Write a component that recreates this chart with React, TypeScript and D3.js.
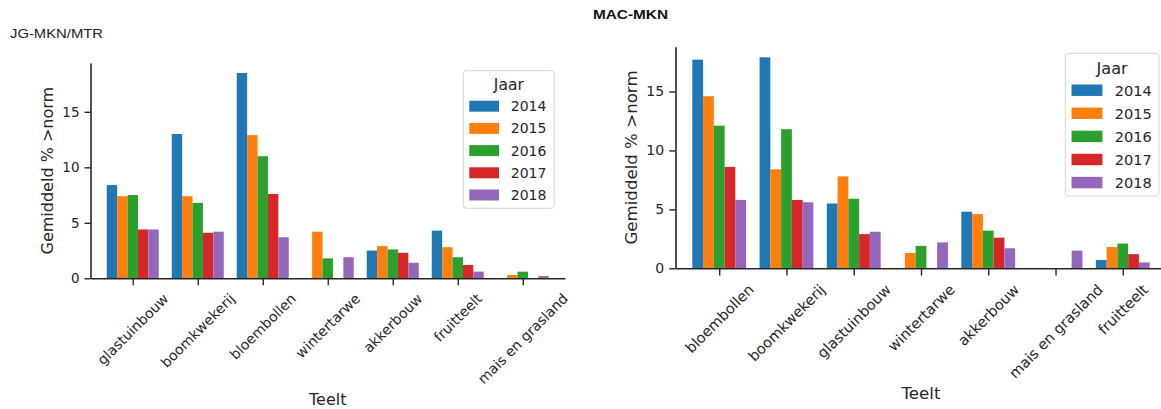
import { useEffect, useRef } from 'react';
import * as d3 from 'd3';

// Jaren en kleuren (matplotlib tab10)
const years = ['2014', '2015', '2016', '2017', '2018'];
const yearColors = ['#1f77b4', '#ff7f0e', '#2ca02c', '#d62728', '#9467bd'];
const yTicks = [0, 5, 10, 15];

// JG-MKN/MTR
const leftCats = ['glastuinbouw', 'boomkwekerij', 'bloembollen', 'wintertarwe', 'akkerbouw', 'fruitteelt', 'mais en grasland'];
const left2014 = [8.4, 13.0, 18.5, 0, 2.5, 4.3, 0];
const left2015 = [7.4, 7.4, 12.9, 4.2, 2.9, 2.8, 0.3];
const left2016 = [7.5, 6.8, 11.0, 1.8, 2.6, 1.9, 0.6];
const left2017 = [4.4, 4.1, 7.6, 0, 2.3, 1.2, 0];
const left2018 = [4.4, 4.2, 3.7, 1.9, 1.4, 0.6, 0.2];

// MAC-MKN
const rightCats = ['bloembollen', 'boomkwekerij', 'glastuinbouw', 'wintertarwe', 'akkerbouw', 'mais en grasland', 'fruitteelt'];
const right2014 = [17.7, 17.9, 5.5, 0, 4.8, 0, 0.7];
const right2015 = [14.6, 8.4, 7.8, 1.3, 4.6, 0, 1.8];
const right2016 = [12.1, 11.8, 5.9, 1.9, 3.2, 0, 2.1];
const right2017 = [8.6, 5.8, 2.9, 0, 2.6, 0, 1.2];
const right2018 = [5.8, 5.6, 3.1, 2.2, 1.7, 1.5, 0.5];

const INK = '#262626';
const FONT = 'DejaVu Sans, sans-serif';

interface Panel {
  cats: string[];
  series: number[][];
  k: number; // slight scale difference between both panels
  left: number;
  right: number;
  top: number;
  bottom: number;
  yMax: number;
  pad: number;
  legend: { x: number; y: number; w: number; h: number };
  ylabelX: number;
  xlabelY: number;
}

function drawPanel(svg: d3.Selection<SVGSVGElement, unknown, null, undefined>, p: Panel) {
  const k = p.k;
  const n = p.cats.length;
  const x = d3.scaleLinear().domain([-p.pad, n - 1 + p.pad]).range([p.left, p.right]);
  const y = d3.scaleLinear().domain([0, p.yMax]).range([p.bottom, p.top]);
  const step = x(1) - x(0);
  const bw = (step * 0.8) / years.length;

  const g = svg.append('g');

  // bars
  p.series.forEach((vals, j) => {
    g.append('g')
      .selectAll('rect')
      .data(vals)
      .enter()
      .append('rect')
      .attr('x', (_d, i) => x(i) - step * 0.4 + j * bw)
      .attr('width', bw)
      .attr('y', d => y(d))
      .attr('height', d => y(0) - y(d))
      .attr('fill', yearColors[j]);
  });

  // y axis
  const ya = g.append('g')
    .attr('transform', `translate(${p.left},0)`)
    .call(d3.axisLeft(y).tickValues(yTicks).tickSize(6 * k).tickSizeOuter(0).tickPadding(5 * k));
  ya.select('.domain').attr('stroke', INK).attr('stroke-width', 1.6);
  ya.selectAll('.tick line').attr('stroke', INK).attr('stroke-width', 1.4);
  ya.selectAll('.tick text').attr('fill', INK).style('font-family', FONT).style('font-size', `${13.5 * k}px`);

  // x axis
  const xa = g.append('g')
    .attr('transform', `translate(0,${p.bottom})`)
    .call(d3.axisBottom(x).tickValues(d3.range(n)).tickFormat(() => '').tickSize(7 * k).tickSizeOuter(0));
  xa.select('.domain').attr('stroke', INK).attr('stroke-width', 1.6);
  xa.selectAll('.tick line').attr('stroke', INK).attr('stroke-width', 1.4);

  // rotated category labels, bbox centred under the tick (matplotlib ha=center)
  const fs = 14 * k;
  p.cats.forEach((c, i) => {
    const t = g.append('text')
      .attr('text-anchor', 'middle')
      .attr('dominant-baseline', 'central')
      .attr('fill', INK)
      .style('font-family', FONT)
      .style('font-size', `${fs}px`)
      .text(c);
    const L = (t.node() as SVGTextElement).getComputedTextLength();
    const half = (L + fs * 1.05) * Math.SQRT1_2 / 2;
    t.attr('transform', `translate(${x(i)},${p.bottom + 12.5 * k + half}) rotate(-45)`);
  });

  // axis labels
  g.append('text')
    .attr('transform', `translate(${p.ylabelX},${(p.top + p.bottom) / 2}) rotate(-90)`)
    .attr('text-anchor', 'middle')
    .attr('dominant-baseline', 'central')
    .attr('fill', INK)
    .style('font-family', FONT)
    .style('font-size', `${16 * k}px`)
    .text('Gemiddeld % >norm');

  g.append('text')
    .attr('x', (p.left + p.right) / 2)
    .attr('y', p.xlabelY)
    .attr('text-anchor', 'middle')
    .attr('dominant-baseline', 'central')
    .attr('fill', INK)
    .style('font-family', FONT)
    .style('font-size', `${16 * k}px`)
    .text('Teelt');

  // legend
  const lg = g.append('g').attr('transform', `translate(${p.legend.x},${p.legend.y})`);
  lg.append('rect')
    .attr('width', p.legend.w)
    .attr('height', p.legend.h)
    .attr('rx', 3)
    .attr('fill', '#fff')
    .attr('fill-opacity', 0.8)
    .attr('stroke', '#d6d6d6')
    .attr('stroke-width', 1);
  lg.append('text')
    .attr('x', p.legend.w / 2)
    .attr('y', 14.3 * k)
    .attr('text-anchor', 'middle')
    .attr('dominant-baseline', 'central')
    .attr('fill', INK)
    .style('font-family', FONT)
    .style('font-size', `${15.5 * k}px`)
    .text('Jaar');
  years.forEach((yr, j) => {
    const cy = 35.5 * k + j * 22.2 * k;
    lg.append('rect')
      .attr('x', 6 * k)
      .attr('y', cy - 5.5 * k)
      .attr('width', 29.7 * k)
      .attr('height', 11 * k)
      .attr('fill', yearColors[j]);
    lg.append('text')
      .attr('x', 47.5 * k)
      .attr('y', cy)
      .attr('dominant-baseline', 'central')
      .attr('fill', INK)
      .style('font-family', FONT)
      .style('font-size', `${14 * k}px`)
      .text(yr);
  });
}

export default function App() {
  const ref = useRef<SVGSVGElement>(null);

  useEffect(() => {
    if (!ref.current) return;
    document.body.style.margin = '0';
    const svg = d3.select(ref.current);
    svg.selectAll('*').remove();

    svg.append('rect').attr('width', 1161).attr('height', 409).attr('fill', '#fff');

    drawPanel(svg, {
      cats: leftCats,
      series: [left2014, left2015, left2016, left2017, left2018],
      k: 1,
      left: 90.5,
      right: 565,
      top: 63,
      bottom: 278.3,
      yMax: 19.4,
      pad: 0.65,
      legend: { x: 463.3, y: 70.7, w: 91, h: 137.6 },
      ylabelX: 47.6,
      xlabelY: 399.5,
    });

    drawPanel(svg, {
      cats: rightCats,
      series: [right2014, right2015, right2016, right2017, right2018],
      k: 1.04,
      left: 675.5,
      right: 1166.5,
      top: 46.7,
      bottom: 268.3,
      yMax: 18.8,
      pad: 0.65,
      legend: { x: 1065.3, y: 53.3, w: 93.7, h: 142.7 },
      ylabelX: 631.7,
      xlabelY: 393,
    });

    // titles
    svg.append('text')
      .attr('x', 10)
      .attr('y', 37.5)
      .attr('textLength', 93)
      .attr('lengthAdjust', 'spacingAndGlyphs')
      .attr('fill', '#222')
      .style('font-family', 'Liberation Sans, Arial, sans-serif')
      .style('font-size', '13.5px')
      .text('JG-MKN/MTR');

    svg.append('text')
      .attr('x', 593)
      .attr('y', 19)
      .attr('textLength', 75)
      .attr('lengthAdjust', 'spacingAndGlyphs')
      .attr('fill', '#111')
      .style('font-family', 'Liberation Sans, Arial, sans-serif')
      .style('font-size', '13.5px')
      .style('font-weight', 'bold')
      .text('MAC-MKN');
  }, []);

  return <svg ref={ref} width={1161} height={409} style={{ display: 'block' }} />;
}
